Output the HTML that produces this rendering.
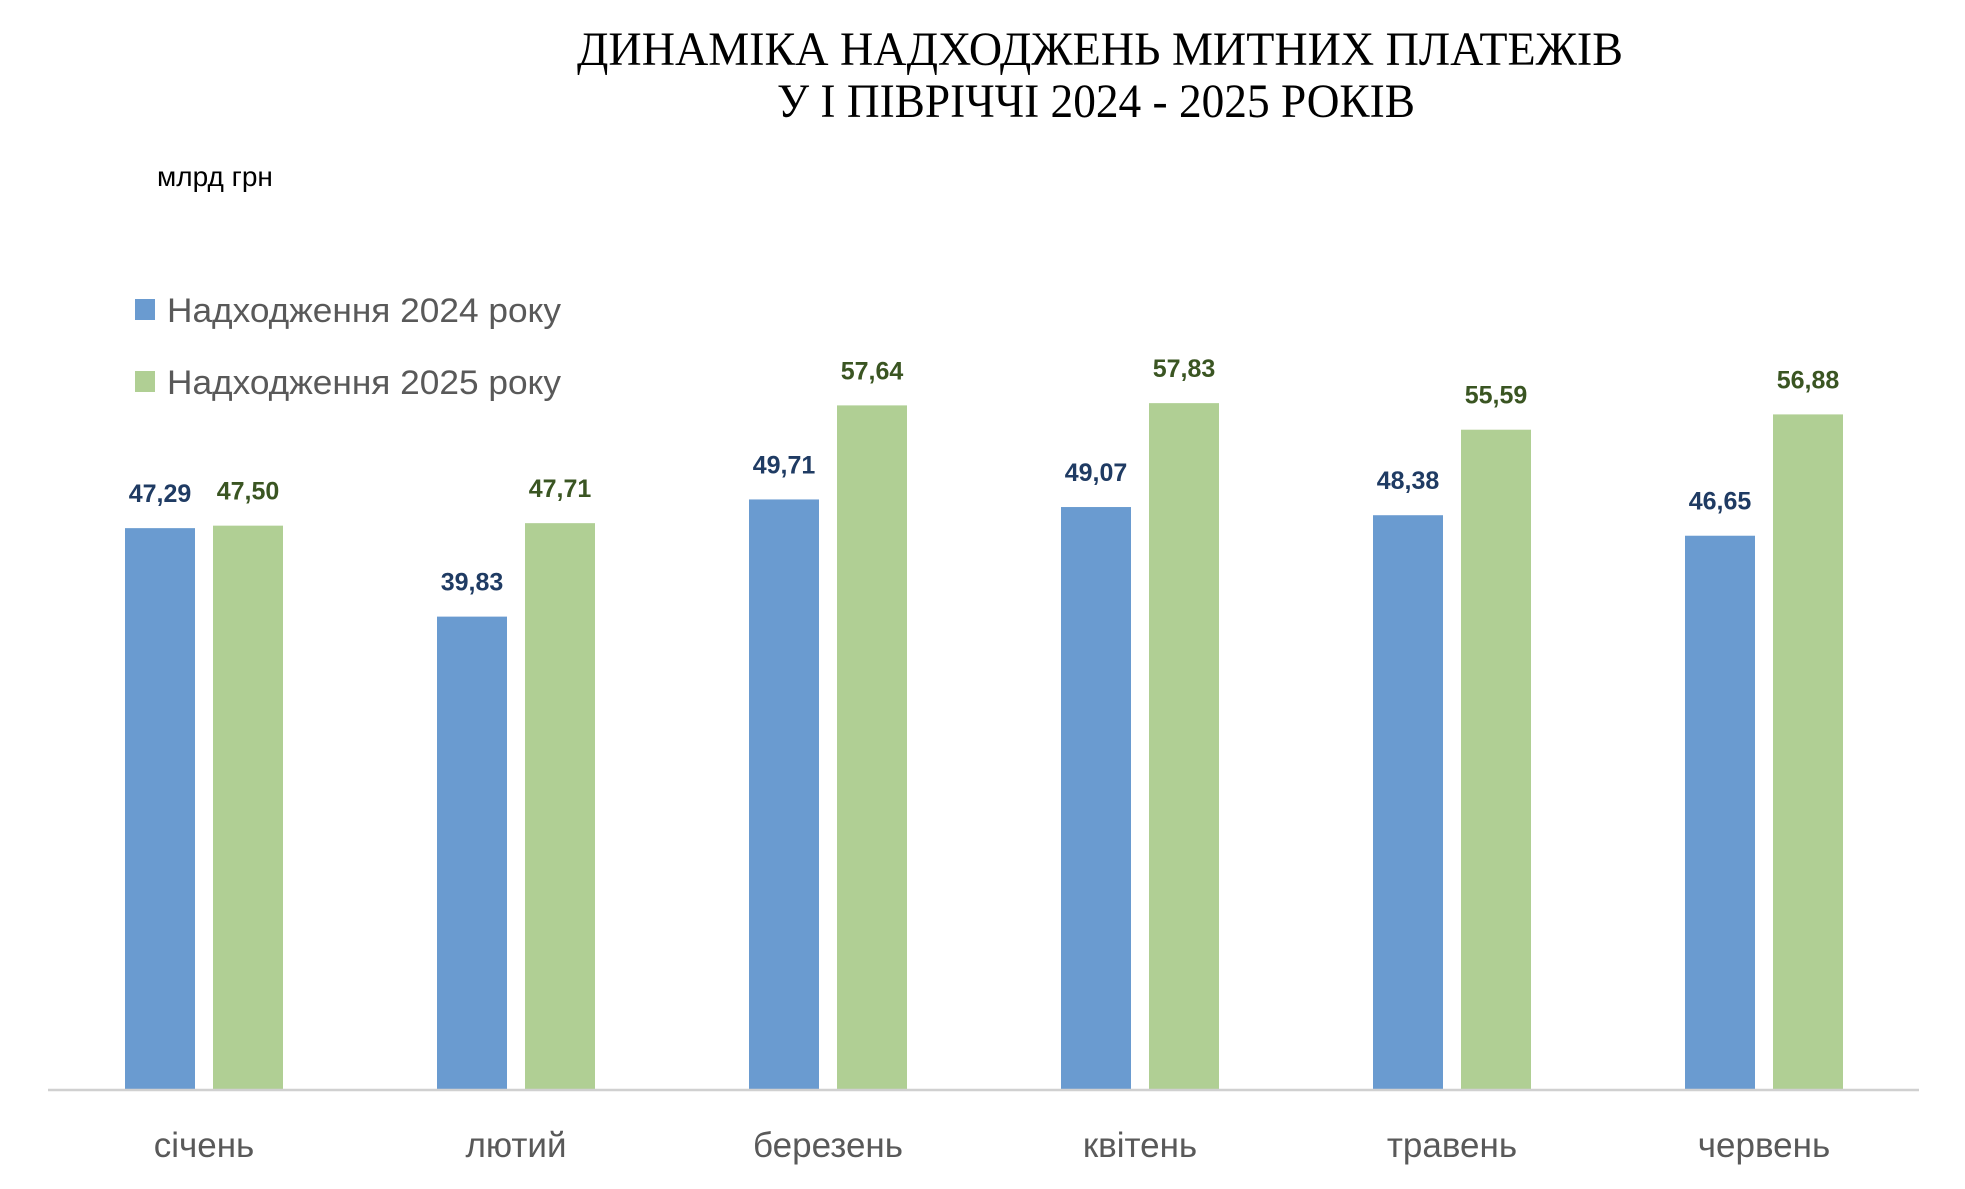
<!DOCTYPE html>
<html><head><meta charset="utf-8">
<style>
html,body{margin:0;padding:0;background:#fff;}
svg{display:block;}
</style></head>
<body>
<svg id="chart" width="1965" height="1189" viewBox="0 0 1965 1189" xmlns="http://www.w3.org/2000/svg">
  <text x="1100" y="65" text-anchor="middle" font-family="Liberation Serif, serif" font-size="48" textLength="1046" lengthAdjust="spacingAndGlyphs" fill="#000">ДИНАМІКА НАДХОДЖЕНЬ МИТНИХ ПЛАТЕЖІВ</text>
  <text x="1096" y="117" text-anchor="middle" font-family="Liberation Serif, serif" font-size="48" textLength="638" lengthAdjust="spacingAndGlyphs" fill="#000">У І ПІВРІЧЧІ 2024 - 2025 РОКІВ</text>
  <text x="157" y="186" font-family="Liberation Sans, sans-serif" font-size="28" fill="#000">млрд грн</text>
  <g>
    <rect x="135" y="299" width="20" height="21" fill="#6A9BD0"/>
    <text x="167" y="322" font-family="Liberation Sans, sans-serif" font-size="34" fill="#595959" textLength="394" lengthAdjust="spacingAndGlyphs">Надходження 2024 року</text>
    <rect x="135" y="371" width="20" height="21" fill="#B0CF94"/>
    <text x="167" y="394" font-family="Liberation Sans, sans-serif" font-size="34" fill="#595959" textLength="394" lengthAdjust="spacingAndGlyphs">Надходження 2025 року</text>
  </g>
  <g id="bars"></g>
  <line x1="48" y1="1090" x2="1919" y2="1090" stroke="#D0D0D0" stroke-width="2.5"/>
  <g id="labels"></g>
</svg>
<script>
const categories = ["січень","лютий","березень","квітень","травень","червень"];
const values2024 = [47.29,39.83,49.71,49.07,48.38,46.65];
const values2025 = [47.50,47.71,57.64,57.83,55.59,56.88];
const labels2024 = ["47,29","39,83","49,71","49,07","48,38","46,65"];
const labels2025 = ["47,50","47,71","57,64","57,83","55,59","56,88"];

const NS = "http://www.w3.org/2000/svg";
const baseY = 1089, pxPerUnit = 11.86;
const groupStart = 204, groupStep = 312, barW = 70, gap = 18;
function yScale(v){ return baseY - v * pxPerUnit; }
function xCenter(i){ return groupStart + i * groupStep; }
const barsG = document.getElementById('bars');
const labG = document.getElementById('labels');
function mk(tag, attrs, parent){ const e=document.createElementNS(NS,tag); for(const k in attrs) e.setAttribute(k,attrs[k]); parent.appendChild(e); return e; }

categories.forEach((cat,i)=>{
  const cx = xCenter(i);
  const series = [[values2024[i], labels2024[i], cx - gap/2 - barW, "#6A9BD0", "#1F3B63", "2024"],
                  [values2025[i], labels2025[i], cx + gap/2, "#B0CF94", "#3A5522", "2025"]];
  series.forEach(s=>{
    const y = yScale(s[0]);
    const r = mk('rect',{x:s[2], y:y, width:barW, height:baseY - y, fill:s[3]}, barsG);
    
    
    const t = mk('text',{x:s[2] + barW/2, y:y - 26, 'text-anchor':'middle', 'font-family':'Liberation Sans, sans-serif', 'font-size':'25', 'font-weight':'bold', fill:s[4]}, labG);
    t.textContent = s[1];
    
    
  });
  const m = mk('text',{x:cx, y:1157, 'text-anchor':'middle', 'font-family':'Liberation Sans, sans-serif', 'font-size':'35', fill:'#595959'}, labG);
  m.textContent = cat;
  
  
});
</script>
</body></html>
